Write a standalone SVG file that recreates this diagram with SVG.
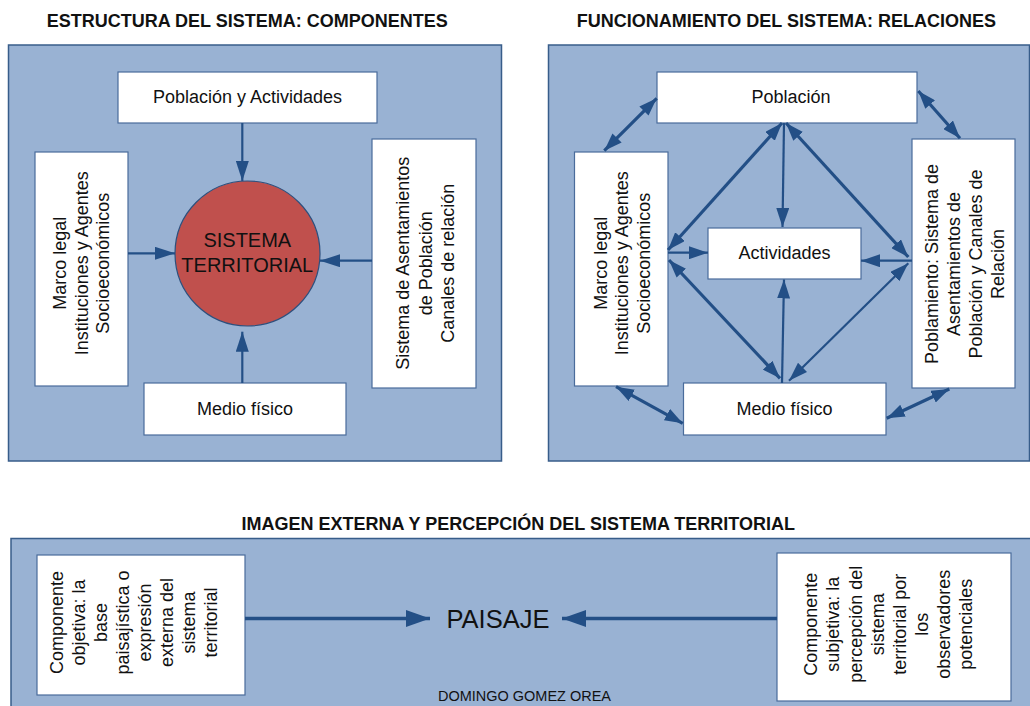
<svg xmlns="http://www.w3.org/2000/svg" width="1030" height="706" viewBox="0 0 1030 706">
<style>
text{font-family:"Liberation Sans",Arial,sans-serif;fill:#111;}
.title{font-size:18px;font-weight:bold;}
.lbl{font-size:18px;}
.panel{fill:#99B2D3;stroke:#385D8A;stroke-width:1.5;}
.box{fill:#fff;stroke:#4A6C9B;stroke-width:1.2;}
.ar{stroke:#234F86;fill:none;}
.w2{stroke-width:2.2;}
.w3{stroke-width:3.2;}
.w35{stroke-width:3.6;}
</style>
<defs>
<marker id="ahL" markerUnits="userSpaceOnUse" markerWidth="20" markerHeight="13" refX="20" refY="6.5" orient="auto"><path d="M0,0 L20,6.5 L0,13 z" fill="#234F86"/></marker>
<marker id="ahT" markerUnits="userSpaceOnUse" markerWidth="18" markerHeight="13" refX="18" refY="6.5" orient="auto-start-reverse"><path d="M0,0 L18,6.5 L0,13 z" fill="#234F86"/></marker>
<marker id="ahS" markerUnits="userSpaceOnUse" markerWidth="19" markerHeight="13" refX="19" refY="6.5" orient="auto-start-reverse"><path d="M0,0 L19,6.5 L0,13 z" fill="#234F86"/></marker>
<marker id="ahB" markerUnits="userSpaceOnUse" markerWidth="24" markerHeight="17" refX="24" refY="8.5" orient="auto"><path d="M0,0 L24,8.5 L0,17 z" fill="#234F86"/></marker>
</defs>

<!-- titles -->
<text class="title" x="46.7" y="27">ESTRUCTURA DEL SISTEMA: COMPONENTES</text>
<text class="title" x="576.7" y="27">FUNCIONAMIENTO DEL SISTEMA: RELACIONES</text>
<text class="title" x="241.5" y="530">IMAGEN EXTERNA Y PERCEPCIÓN DEL SISTEMA TERRITORIAL</text>

<!-- panels -->
<rect id="panel-left" class="panel" x="8.5" y="45" width="493" height="416"/>
<rect id="panel-right" class="panel" x="548.5" y="45" width="481" height="416"/>
<rect id="panel-bottom" class="panel" x="11" y="538.5" width="1030" height="200"/>

<!-- LEFT PANEL NODES -->
<g id="l-poblacion-actividades">
<rect class="box" x="118" y="72" width="259" height="51"/>
<text class="lbl" x="247.5" y="103" text-anchor="middle">Población y Actividades</text>
</g>
<g id="l-marco">
<rect class="box" x="35" y="152" width="93" height="234"/>
<text class="lbl" text-anchor="middle" transform="translate(0,263.3) rotate(-90)"><tspan x="0" y="66">Marco legal</tspan><tspan x="0" y="87.7">Instituciones y Agentes</tspan><tspan x="0" y="109.4">Socioeconómicos</tspan></text>
</g>
<g id="l-sistema-territorial">
<circle cx="247.5" cy="253.5" r="72.5" fill="#C0504D" stroke="#2E4F7C" stroke-width="1.2"/>
<text x="247.3" y="247.3" text-anchor="middle" font-size="20">SISTEMA</text>
<text x="247.3" y="272.3" text-anchor="middle" font-size="20">TERRITORIAL</text>
</g>
<g id="l-asentamientos">
<rect class="box" x="372" y="139" width="104" height="249"/>
<text class="lbl" text-anchor="middle" transform="translate(0,263.3) rotate(-90)"><tspan x="0" y="409.3">Sistema de Asentamientos</tspan><tspan x="0" y="431.8">de Población</tspan><tspan x="0" y="454">Canales de relación</tspan></text>
</g>
<g id="l-medio">
<rect class="box" x="144" y="383" width="202" height="52"/>
<text class="lbl" x="245" y="415" text-anchor="middle">Medio físico</text>
</g>

<!-- RIGHT PANEL NODES -->
<g id="r-poblacion">
<rect class="box" x="657" y="72" width="260" height="51"/>
<text class="lbl" x="791" y="103" text-anchor="middle">Población</text>
</g>
<g id="r-marco">
<rect class="box" x="574.5" y="152" width="93.5" height="234"/>
<text class="lbl" text-anchor="middle" transform="translate(0,263.3) rotate(-90)"><tspan x="0" y="606.7">Marco legal</tspan><tspan x="0" y="628.3">Instituciones y Agentes</tspan><tspan x="0" y="649.8">Socioeconómicos</tspan></text>
</g>
<g id="r-actividades">
<rect class="box" x="708" y="228" width="153" height="51"/>
<text class="lbl" x="784.5" y="259" text-anchor="middle">Actividades</text>
</g>
<g id="r-poblamiento">
<rect class="box" x="912" y="139" width="103" height="249"/>
<text class="lbl" text-anchor="middle" transform="translate(0,264) rotate(-90)"><tspan x="0" y="938.3">Poblamiento: Sistema de</tspan><tspan x="0" y="960">Asentamientos de</tspan><tspan x="0" y="981.7">Población y Canales de</tspan><tspan x="0" y="1004">Relación</tspan></text>
</g>
<g id="r-medio">
<rect class="box" x="683.5" y="383" width="202.5" height="52"/>
<text class="lbl" x="784.5" y="415" text-anchor="middle">Medio físico</text>
</g>

<!-- BOTTOM PANEL NODES -->
<g id="b-objetiva">
<rect class="box" x="37" y="555" width="208" height="140"/>
<text class="lbl" text-anchor="middle" transform="translate(0,622.5) rotate(-90)"><tspan x="0" y="63">Componente</tspan><tspan x="0" y="85">objetiva: la</tspan><tspan x="0" y="107">base</tspan><tspan x="0" y="129">paisajística o</tspan><tspan x="0" y="151">expresión</tspan><tspan x="0" y="173">externa del</tspan><tspan x="0" y="195">sistema</tspan><tspan x="0" y="217">territorial</tspan></text>
</g>
<g id="b-paisaje">
<text x="498" y="627.5" text-anchor="middle" font-size="25.5">PAISAJE</text>
</g>
<g id="b-subjetiva">
<rect class="box" x="777" y="553" width="234" height="148"/>
<text class="lbl" text-anchor="middle" transform="translate(0,624.2) rotate(-90)"><tspan x="0" y="817.3">Componente</tspan><tspan x="0" y="839.4">subjetiva: la</tspan><tspan x="0" y="861.5">percepción del</tspan><tspan x="0" y="883.6">sistema</tspan><tspan x="0" y="905.7">territorial por</tspan><tspan x="0" y="927.8">los</tspan><tspan x="0" y="949.9">observadores</tspan><tspan x="0" y="972">potenciales</tspan></text>
</g>
<text x="524.5" y="701" text-anchor="middle" font-size="14" textLength="173" lengthAdjust="spacingAndGlyphs">DOMINGO GOMEZ OREA</text>

<!-- CONNECTORS -->
<g id="connectors">
<!-- left panel -->
<line class="ar w2" x1="242.3" y1="123" x2="242.3" y2="181" marker-end="url(#ahL)"/>
<line class="ar w2" x1="128" y1="253.3" x2="175" y2="253.3" marker-end="url(#ahL)"/>
<line class="ar w2" x1="372" y1="260.7" x2="320" y2="260.7" marker-end="url(#ahL)"/>
<line class="ar w2" x1="242.3" y1="383" x2="242.3" y2="331.7" marker-end="url(#ahL)"/>
<!-- right panel outer short double arrows -->
<line class="ar w3" x1="604.3" y1="150.7" x2="656.7" y2="98.3" marker-start="url(#ahT)" marker-end="url(#ahT)"/>
<line class="ar w3" x1="918.3" y1="91" x2="960" y2="138.3" marker-start="url(#ahT)" marker-end="url(#ahT)"/>
<line class="ar w3" x1="616" y1="386.7" x2="682.7" y2="423.3" marker-start="url(#ahT)" marker-end="url(#ahT)"/>
<line class="ar w3" x1="886.7" y1="418.3" x2="949.3" y2="389" marker-start="url(#ahT)" marker-end="url(#ahT)"/>
<!-- long diagonals -->
<line class="ar w3" x1="782" y1="123" x2="668" y2="250" marker-start="url(#ahT)" marker-end="url(#ahT)"/>
<line class="ar w3" x1="786" y1="123" x2="908.3" y2="257" marker-start="url(#ahT)" marker-end="url(#ahT)"/>
<line class="ar w3" x1="669" y1="260" x2="780" y2="378.3" marker-start="url(#ahT)" marker-end="url(#ahT)"/>
<line class="ar w2" x1="908.3" y1="263.3" x2="789" y2="380.7" marker-start="url(#ahS)" marker-end="url(#ahS)"/>
<!-- into Actividades -->
<line class="ar w2" x1="784" y1="123" x2="782.5" y2="227" marker-end="url(#ahS)"/>
<line class="ar w2" x1="668" y1="252.7" x2="708" y2="252.7" marker-end="url(#ahS)"/>
<line class="ar w2" x1="912" y1="260.7" x2="861" y2="260.7" marker-end="url(#ahS)"/>
<line class="ar w2" x1="782" y1="383" x2="784" y2="279.5" marker-end="url(#ahS)"/>
<!-- bottom -->
<line class="ar w35" x1="245" y1="618.5" x2="430" y2="618.5" marker-end="url(#ahB)"/>
<line class="ar w35" x1="777" y1="618.5" x2="562" y2="618.5" marker-end="url(#ahB)"/>
</g>
</svg>
